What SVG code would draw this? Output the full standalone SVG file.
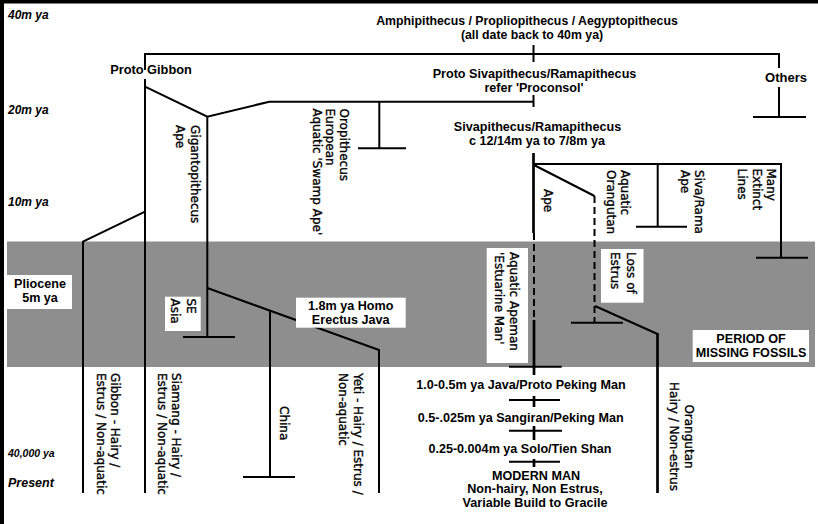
<svg xmlns="http://www.w3.org/2000/svg" width="818" height="524" viewBox="0 0 818 524">
<style>
.ln{stroke:#000;stroke-width:2;fill:none;stroke-linecap:butt}
.tk{stroke:#000;stroke-width:2.7;fill:none}
.ds{stroke:#000;stroke-width:2;fill:none;stroke-dasharray:7 4}
.h{font-family:"Liberation Sans",Arial,sans-serif;font-weight:bold;font-size:12.6px;fill:#000;text-anchor:middle}
.t{font-family:"Liberation Sans",Arial,sans-serif;font-weight:bold;font-style:italic;font-size:12px;fill:#000}
.v{font-family:"DejaVu Sans",sans-serif;font-size:12px;fill:#000;stroke:#000;stroke-width:0.35}
.box{fill:#fff}
</style>
<rect x="0" y="0" width="818" height="524" fill="#fff"/>
<rect x="7" y="241.5" width="808" height="125.5" fill="#8e8e8e"/>
<rect x="0" y="0" width="818" height="3.5" fill="#000"/>
<rect x="0" y="0" width="4" height="524" fill="#000"/>

<g id="time-labels">
<text class="t" x="8" y="19">40m ya</text>
<text class="t" x="8" y="114">20m ya</text>
<text class="t" x="8" y="206">10m ya</text>
<text class="t" x="8" y="457" style="font-size:10.5px">40,000 ya</text>
<text class="t" x="8" y="487" style="font-size:12.5px">Present</text>
</g>

<g id="connectors">
<line class="ln" x1="145" y1="54" x2="780" y2="54"/>
<line class="ln" x1="533.5" y1="45" x2="533.5" y2="62"/>
<line class="ln" x1="145" y1="53" x2="145" y2="70"/>
<line class="ln" x1="145" y1="79" x2="145" y2="493"/>
<polyline class="ln" points="145,86.7 207.3,116.7 269.3,101.7 533.5,101.7"/>
<line class="ln" x1="533.5" y1="95" x2="533.5" y2="107"/>
<line class="ln" x1="379.3" y1="101.7" x2="379.3" y2="148.3"/>
<line class="ln" x1="358" y1="148.3" x2="406" y2="148.3"/>
<line class="ln" x1="207.3" y1="116.7" x2="207.3" y2="337"/>
<line class="ln" x1="183" y1="337" x2="235" y2="337"/>
<polyline class="ln" points="207.3,288 379,350 379,493"/>
<line class="ln" x1="270" y1="311" x2="270" y2="477"/>
<line class="ln" x1="243" y1="477" x2="295" y2="477"/>
<polyline class="ln" points="145,211.7 83,241.7 83,493"/>
<line class="ln" x1="779" y1="53" x2="779" y2="68"/>
<line class="ln" x1="779" y1="87" x2="779" y2="117"/>
<line class="ln" x1="753" y1="117" x2="806" y2="117"/>
<line class="tk" x1="533.5" y1="153" x2="533.5" y2="233"/>
<line class="ds" x1="534" y1="233" x2="534" y2="320"/>
<line class="tk" x1="534" y1="320" x2="534" y2="375"/>
<line class="ln" x1="509" y1="366.7" x2="561.7" y2="366.7"/>
<line class="ln" x1="533" y1="164" x2="782" y2="164"/>
<polyline class="ln" points="534,165 594.5,196"/>
<line class="ds" x1="594.5" y1="196" x2="594.5" y2="322"/>
<line class="ln" x1="571" y1="322.7" x2="623" y2="322.7"/>
<line class="ln" x1="595" y1="306" x2="657.5" y2="334"/>
<line class="tk" x1="657.5" y1="333" x2="657.5" y2="493"/>
<line class="ln" x1="657.7" y1="164" x2="657.7" y2="226.7"/>
<line class="ln" x1="636" y1="226.7" x2="687" y2="226.7"/>
<line class="ln" x1="781" y1="163" x2="781" y2="257.7"/>
<line class="ln" x1="756" y1="257.7" x2="808" y2="257.7"/>
<line class="ln" x1="509" y1="400" x2="560" y2="400"/>
<line class="tk" x1="534" y1="396" x2="534" y2="407"/>
<line class="ln" x1="509" y1="430.7" x2="562" y2="430.7"/>
<line class="tk" x1="534" y1="426" x2="534" y2="440"/>
<line class="ln" x1="509" y1="461.7" x2="560" y2="461.7"/>
<line class="tk" x1="534" y1="459" x2="534" y2="467"/>
</g>

<g id="title">
<text class="h" x="527" y="24.5" style="font-size:12.3px">Amphipithecus / Propliopithecus / Aegyptopithecus</text>
<text class="h" x="532" y="38.5" style="font-size:12.3px">(all date back to 40m ya)</text>
</g>
<g id="proto-gibbon"><text class="h" x="151" y="74" style="font-size:12.8px">Proto Gibbon</text></g>
<g id="proto-siva">
<text class="h" x="534.5" y="77.5">Proto Sivapithecus/Ramapithecus</text>
<text class="h" x="534" y="91.5">refer 'Proconsol'</text>
</g>
<g id="others"><text class="h" x="786" y="82" style="font-size:13px">Others</text></g>
<g id="siva">
<text class="h" x="537.5" y="130.5">Sivapithecus/Ramapithecus</text>
<text class="h" x="537" y="144.5">c 12/14m ya to 7/8m ya</text>
</g>
<g id="gigantopithecus" transform="translate(190.5,125) rotate(90)">
<text class="v" x="0" y="0">Gigantopithecus</text>
<text class="v" x="0" y="15">Ape</text>
</g>
<g id="oropithecus" transform="translate(339.5,108.5) rotate(90)">
<text class="v" x="0" y="0">Oropithecus</text>
<text class="v" x="0" y="13.5">European</text>
<text class="v" x="0" y="27">Aquatic 'Swamp Ape'</text>
</g>
<g id="ape" transform="translate(543.5,189) rotate(90)">
<text class="v" x="0" y="0">Ape</text>
</g>
<g id="aquatic-orangutan" transform="translate(620.5,170) rotate(90)">
<text class="v" x="0" y="0">Aquatic</text>
<text class="v" x="0" y="14">Orangutan</text>
</g>
<g id="siva-rama" transform="translate(695,170) rotate(90)">
<text class="v" x="0" y="0">Siva/Rama</text>
<text class="v" x="0" y="14.5">Ape</text>
</g>
<g id="extinct" transform="translate(767,168.5) rotate(90)">
<text class="v" x="0" y="0">Many</text>
<text class="v" x="0" y="14.5">Extinct</text>
<text class="v" x="0" y="29">Lines</text>
</g>
<g id="pliocene">
<rect class="box" x="7" y="275" width="65" height="34"/>
<text class="h" x="40" y="288">Pliocene</text>
<text class="h" x="40" y="302">5m ya</text>
</g>
<g id="se-asia">
<rect class="box" x="165" y="296.7" width="35.7" height="34.3"/>
<g transform="translate(187,298.5) rotate(90)">
<text class="v" x="0" y="0">SE</text>
<text class="v" x="0" y="15.7">Asia</text>
</g>
</g>
<g id="homo-erectus">
<rect class="box" x="296" y="297.7" width="109.7" height="30"/>
<text class="h" x="350.7" y="309.5">1.8m ya Homo</text>
<text class="h" x="350.7" y="324">Erectus  Java</text>
</g>
<g id="aquatic-apeman">
<rect class="box" x="486.7" y="248" width="41.3" height="115"/>
<g transform="translate(510,252) rotate(90)">
<text class="v" x="0" y="0">Aquatic Apeman</text>
<text class="v" x="0" y="15">'Estuarine Man'</text>
</g>
</g>
<g id="loss-of-estrus">
<rect class="box" x="601" y="249" width="42.5" height="53.7"/>
<g transform="translate(627,252) rotate(90)">
<text class="v" x="0" y="0">Loss of</text>
<text class="v" x="0" y="16">Estrus</text>
</g>
</g>
<g id="missing-fossils">
<rect class="box" x="692.7" y="330" width="116.3" height="32"/>
<text class="h" x="751" y="343">PERIOD OF</text>
<text class="h" x="751" y="357">MISSING FOSSILS</text>
</g>
<g id="gibbon" transform="translate(110.5,373) rotate(90)">
<text class="v" x="0" y="0">Gibbon - Hairy /</text>
<text class="v" x="0" y="14">Estrus / Non-aquatic</text>
</g>
<g id="siamang" transform="translate(172,373) rotate(90)">
<text class="v" x="0" y="0">Siamang - Hairy /</text>
<text class="v" x="0" y="14.5">Estrus / Non-aquatic</text>
</g>
<g id="china" transform="translate(279.5,406) rotate(90)">
<text class="v" x="0" y="0">China</text>
</g>
<g id="yeti" transform="translate(353.5,373) rotate(90)">
<text class="v" x="0" y="0">Yeti - Hairy / Estrus /</text>
<text class="v" x="0" y="15">Non-aquatic</text>
</g>
<g id="orangutan" transform="translate(685,436.5) rotate(90)">
<text class="v" x="0" y="0" text-anchor="middle">Orangutan</text>
<text class="v" x="0" y="15.5" text-anchor="middle">Hairy / Non-estrus</text>
</g>
<g id="java-peking"><text class="h" x="521" y="389">1.0-0.5m ya Java/Proto Peking Man</text></g>
<g id="sangiran"><text class="h" x="520.7" y="421.7">0.5-.025m ya Sangiran/Peking Man</text></g>
<g id="solo"><text class="h" x="520" y="453">0.25-0.004m ya Solo/Tien Shan</text></g>
<g id="modern-man">
<text class="h" x="536" y="480">MODERN MAN</text>
<text class="h" x="535" y="493">Non-hairy, Non Estrus,</text>
<text class="h" x="535" y="507">Variable Build to Gracile</text>
</g>
</svg>
